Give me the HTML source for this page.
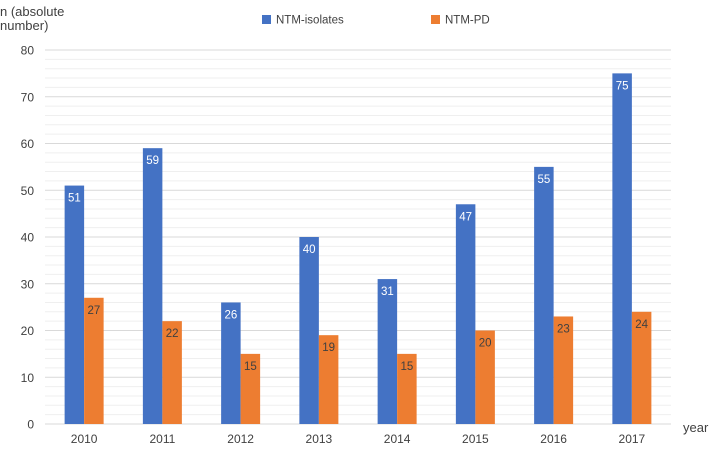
<!DOCTYPE html>
<html><head><meta charset="utf-8"><style>
body{margin:0;background:#fff;font-family:"Liberation Sans",sans-serif}
svg text{font-family:"Liberation Sans",sans-serif}
</style></head><body>
<svg width="709" height="445" xmlns="http://www.w3.org/2000/svg">
<g id="grid"></g><g id="bars"></g><g id="labels"></g>
<text x="0" y="16" font-size="13" fill="#404040">n (absolute</text>
<text x="0" y="30" font-size="13" fill="#404040">number)</text>
<text x="683" y="432" font-size="13" fill="#404040">year</text>
<rect x="262" y="15" width="9" height="9" fill="#4472c4"/>
<text x="276" y="23.5" font-size="11.5" fill="#404040">NTM-isolates</text>
<rect x="431" y="15" width="9" height="9" fill="#ed7d31"/>
<text x="445" y="23.5" font-size="11.5" fill="#404040">NTM-PD</text>
</svg>
<script>
const categories=["2010","2011","2012","2013","2014","2015","2016","2017"];
const isolates=[51,59,26,40,31,47,55,75];
const pd=[27,22,15,19,15,20,23,24];
const yTicks=[0,10,20,30,40,50,60,70,80];
const NS="http://www.w3.org/2000/svg";
const L=45,R=671,Y0=424,Y80=50,bw=19.5;
const step=(R-L)/categories.length;
const y=v=>Y0-(Y0-Y80)*v/80;
const xc=i=>L+step*(i+0.5);
function mk(tag,attrs,parent){const e=document.createElementNS(NS,tag);for(const k in attrs)e.setAttribute(k,attrs[k]);document.getElementById(parent).appendChild(e);return e;}
for(let v=2;v<=80;v+=2){if(v%10===0)continue;const l=mk('line',{x1:L,x2:R,y1:y(v),y2:y(v),stroke:'#efefef','stroke-width':1},'grid');

}
yTicks.forEach(v=>{const l=mk('line',{x1:L,x2:R,y1:y(v),y2:y(v),stroke:'#d9d9d9','stroke-width':1},'grid');


const t=mk('text',{x:34,y:y(v)+4.5,'font-size':12,fill:'#404040','text-anchor':'end'},'labels');t.textContent=v;

});
categories.forEach((c,i)=>{
const b=mk('rect',{x:xc(i)-bw,y:y(isolates[i]),width:bw,height:Y0-y(isolates[i]),fill:'#4472c4'},'bars');


const o=mk('rect',{x:xc(i),y:y(pd[i]),width:bw,height:Y0-y(pd[i]),fill:'#ed7d31'},'bars');


const t1=mk('text',{x:xc(i)-bw/2,y:y(isolates[i])+16,'font-size':11.5,fill:'#fff','text-anchor':'middle'},'labels');t1.textContent=isolates[i];


const t2=mk('text',{x:xc(i)+bw/2,y:y(pd[i])+16,'font-size':11.5,fill:'#404040','text-anchor':'middle'},'labels');t2.textContent=pd[i];


const t3=mk('text',{x:xc(i),y:443,'font-size':12,fill:'#404040','text-anchor':'middle'},'labels');t3.textContent=c;


});
</script>
</body></html>
